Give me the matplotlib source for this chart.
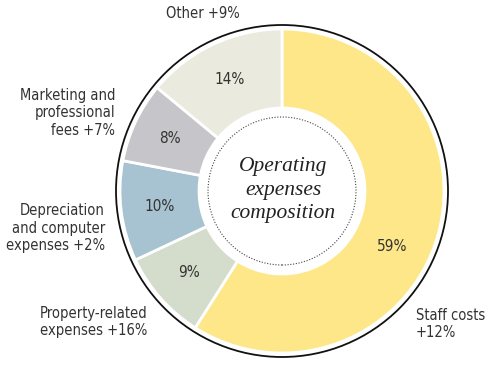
import numpy as np
import matplotlib.pyplot as plt
from matplotlib.patches import Circle

# operating expenses split (share of total) and year-on-year change
categories = ['Staff costs', 'Property-related\nexpenses', 'Depreciation\nand computer\nexpenses',
              'Marketing and\nprofessional\nfees', 'Other']
shares = [59, 9, 10, 8, 14]
changes = ['+12%', '+16%', '+2%', '+7%', '+9%']
colors = ['#FEE789', '#D4DDCC', '#A7C2D0', '#C6C6CA', '#EAEADF']

text_color = '#333333'
label_kw = dict(family='DejaVu Sans', stretch='condensed', color=text_color)

fig = plt.figure(figsize=(4.86, 3.65), dpi=100)
ax = fig.add_axes([0, 0, 1, 1])

cx, cy = 282, 174
r_out, r_in = 162, 83

ax.pie(shares, colors=colors, startangle=90, counterclock=False,
       center=(cx, cy), radius=r_out, frame=True,
       wedgeprops=dict(width=r_out - r_in, edgecolor='white', linewidth=2))
ax.set_xlim(0, 486)
ax.set_ylim(0, 365)
ax.set_aspect('equal')
ax.axis('off')

# percentage inside each wedge; the big one sits a little past its midpoint
start = 90
for i, s in enumerate(shares):
    frac = 0.55 if i == 0 else 0.5
    ang = np.deg2rad(start - s * 3.6 * frac)
    r = (r_out + r_in) / 2 + 1
    ax.text(cx + r * np.cos(ang), cy + r * np.sin(ang), f'{s}%', ha='center', va='center',
            fontsize=11, **label_kw)
    start -= s * 3.6

ax.add_patch(Circle((cx, cy), 166, fill=False, edgecolor='#111111', linewidth=1.3))
ax.add_patch(Circle((cx, cy), 74, fill=False, edgecolor='#444444', linewidth=0.8,
                    linestyle=(0, (1, 1.5))))

ax.text(cx + 1, cy + 1, 'Operating\nexpenses\ncomposition', ha='center', va='center',
        fontsize=15.5, style='italic', family='Liberation Serif', color='#222222',
        linespacing=1.3)

# category names with the change
lab_pos = [(416, 41, 'left'), (147, 43, 'right'), (105, 137, 'right'),
           (115, 252, 'right'), (240, 352, 'right')]
for name, ch, (x, y, ha) in zip(categories, changes, lab_pos):
    txt = name + ' ' + ch if ha == 'right' else name + '\n' + ch
    ax.text(x, y, txt, ha=ha, va='center', fontsize=10.5, linespacing=1.2,
            multialignment=ha, **label_kw)

fig.savefig('out.png', dpi=100)
